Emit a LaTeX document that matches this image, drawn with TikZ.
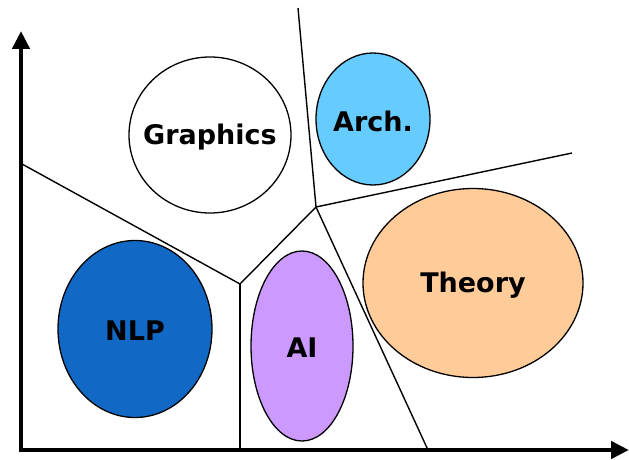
\documentclass[tikz,border=0pt]{standalone}
\usepackage{fontspec}
\setmainfont{DejaVu Sans}
\usetikzlibrary{shapes.geometric,arrows.meta}
\definecolor{archblue}{HTML}{66CCFF}
\definecolor{nlpblue}{HTML}{1169C5}
\definecolor{aipurple}{HTML}{CC99FF}
\definecolor{theoryorange}{HTML}{FFCC99}
\tikzset{
  blob/.style={ellipse, draw=black, line width=1.3pt, inner sep=0pt,
    label={[font=\bfseries\fontsize{27}{27}\selectfont, inner sep=0pt, yshift=-2pt]center:#1}},
  border/.style={line width=1.4pt, line join=miter},
  axis/.style={line width=4.5pt, -{Triangle[width=17pt,length=18pt]}}
}
\begin{document}
\begin{tikzpicture}[x=1pt,y=-1pt]
\useasboundingbox (0,0) rectangle (629,460);
% region boundaries
\coordinate (top) at (298,8);
\coordinate (j1) at (316,207);
\coordinate (right) at (572,153);
\coordinate (bottomR) at (428,450);
\coordinate (j2) at (240,284);
\coordinate (left) at (22,164);
\coordinate (bottomL) at (240,450);
\draw[border] (top) -- (j1) -- (right);
\draw[border] (j1) -- (bottomR);
\draw[border] (j1) -- (j2) -- (left);
\draw[border] (j2) -- (bottomL);
% clusters
\node[blob=Graphics, fill=white, minimum width=162pt, minimum height=156pt] (graphics) at (210,135) {};
\node[blob=Arch., fill=archblue, minimum width=114pt, minimum height=132pt] (arch) at (373,119) {};
\node[blob=NLP, fill=nlpblue, minimum width=154pt, minimum height=177pt] (nlp) at (135,329) {};
\node[blob=AI, fill=aipurple, minimum width=102pt, minimum height=190pt] (ai) at (302,346) {};
\node[blob=Theory, fill=theoryorange, minimum width=220pt, minimum height=189pt] (theory) at (473,283) {};
% axes
\coordinate (origin) at (21,450);
\coordinate (ytip) at (21,31);
\coordinate (xtip) at (629,450);
\draw[axis, line cap=butt] (21,452.25) -- (ytip);
\draw[axis] (18.75,450) -- (xtip);
\end{tikzpicture}
\end{document}
